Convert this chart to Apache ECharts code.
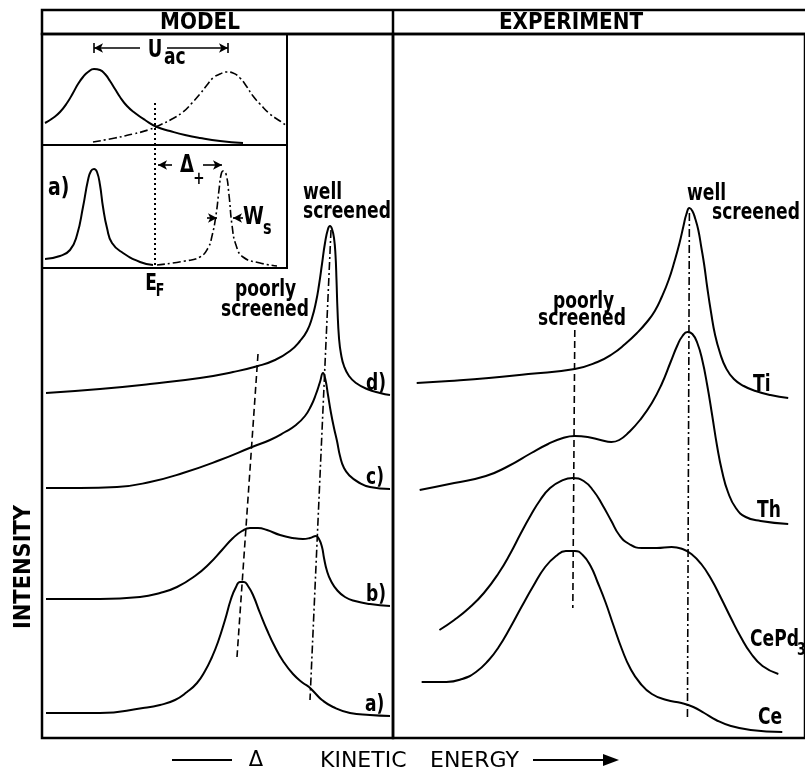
<!DOCTYPE html>
<html><head><meta charset="utf-8">
<script src="https://cdn.jsdelivr.net/npm/echarts@6/dist/echarts.min.js"></script>
<style>html,body{margin:0;padding:0;background:#fff}#c{width:805px;height:772px}</style>
</head><body><div id="c"></div>
<script>
// ---------- DATA (arbitrary energy / intensity units) ----------
// MODEL panel spectra (x: kinetic energy, y: intensity incl. vertical offset)
const modelD = [[0.4,34.5],[5.8,34.9],[10.8,35.4],[15.8,36.0],[19.1,36.6],[21.6,37.2],[23.3,37.8],[24.8,38.7],[25.8,39.7],[26.5,40.7],[27.0,42.0],[27.4,43.6],[27.7,45.3],[28.0,47.4],[28.3,49.5],[28.6,50.9],[28.8,51.2],[29.0,50.9],[29.2,50.0],[29.35,48.3],[29.45,45.8],[29.55,42.8],[29.7,40.0],[29.9,38.4],[30.2,37.2],[30.7,36.2],[31.4,35.5],[32.5,34.9],[33.8,34.5],[34.8,34.3]];
const modelC = [[0.4,25.0],[3.8,25.0],[7.5,25.1],[10.8,25.6],[14.1,26.5],[17.8,27.8],[21.0,29.1],[22.8,29.8],[24.3,30.6],[25.4,31.3],[26.3,32.2],[26.9,33.2],[27.4,34.4],[27.8,35.6],[28.1,36.5],[28.35,35.8],[28.6,34.3],[28.9,32.5],[29.2,31.0],[29.5,29.7],[29.8,28.2],[30.2,27.0],[30.8,26.2],[31.6,25.6],[32.8,25.1],[34.8,24.9]];
const modelB = [[0.4,13.9],[5.8,13.9],[9.8,14.1],[11.8,14.5],[13.5,15.1],[15.3,16.2],[16.8,17.5],[18.0,18.8],[19.1,20.0],[20.0,20.7],[20.8,21.0],[21.6,21.0],[22.5,20.8],[23.8,20.3],[25.1,20.0],[26.1,19.9],[26.8,20.0],[27.4,20.2],[27.7,19.9],[28.0,19.1],[28.2,18.0],[28.5,16.7],[28.9,15.7],[29.5,14.8],[30.3,14.1],[31.3,13.7],[32.8,13.4],[34.8,13.2]];
const modelA = [[0.4,2.5],[5.8,2.5],[10.1,3.0],[11.8,3.3],[13.3,3.8],[14.5,4.6],[15.5,5.5],[16.3,6.7],[17.0,8.1],[17.6,9.6],[18.3,11.8],[18.9,13.9],[19.4,15.1],[19.8,15.6],[20.2,15.6],[20.6,15.2],[21.1,14.3],[21.8,12.5],[22.5,10.8],[23.3,9.1],[24.1,7.7],[25.1,6.4],[26.1,5.5],[26.7,5.1],[27.3,4.5],[28.0,3.8],[29.1,3.1],[30.8,2.5],[32.8,2.3],[34.8,2.2]];
const modelPoorGuide = [[21.6,38.4],[19.5,8.1]];
const modelWellGuide = [[28.9,50.8],[26.8,3.8]];

// EXPERIMENT panel spectra
const expTi = [[2.4,35.5],[5.7,35.7],[9.7,36.0],[13.7,36.4],[18.4,36.9],[20.7,37.6],[22.2,38.4],[23.5,39.4],[24.7,40.5],[25.7,41.6],[26.5,42.7],[27.2,44.1],[27.9,45.8],[28.5,47.7],[29.0,49.5],[29.4,51.2],[29.7,52.4],[30.0,53.0],[30.3,52.7],[30.6,51.9],[30.9,50.8],[31.2,49.1],[31.5,47.3],[31.8,45.1],[32.2,42.5],[32.6,40.3],[33.1,38.5],[33.7,37.0],[34.5,35.9],[35.5,35.2],[36.7,34.7],[38.2,34.3],[40.0,34.0]];
const expTh = [[2.7,24.8],[6.2,25.5],[9.4,26.2],[11.7,27.2],[14.0,28.5],[15.7,29.4],[17.2,30.0],[18.4,30.2],[19.7,30.1],[21.0,29.8],[22.1,29.6],[22.9,29.8],[23.9,30.6],[25.0,31.8],[26.2,33.5],[27.2,35.4],[28.1,37.6],[28.8,39.3],[29.3,40.2],[29.8,40.6],[30.3,40.4],[30.8,39.5],[31.3,37.8],[31.8,35.3],[32.3,32.3],[32.8,29.2],[33.3,26.7],[33.9,24.6],[34.7,23.0],[35.7,22.1],[37.2,21.7],[40.0,21.4]];
const expCePd3 = [[4.7,10.8],[6.2,11.8],[7.7,13.0],[9.2,14.5],[10.7,16.5],[11.9,18.5],[12.9,20.4],[13.9,22.2],[14.9,23.8],[15.9,25.0],[17.0,25.7],[18.2,26.0],[19.3,25.7],[20.3,24.7],[21.2,23.3],[22.1,21.7],[22.9,20.3],[23.9,19.4],[25.2,19.0],[26.7,19.0],[28.2,19.1],[29.3,18.9],[30.2,18.4],[31.2,17.4],[32.2,15.9],[33.2,14.0],[34.2,12.0],[35.2,10.1],[36.2,8.5],[37.4,7.2],[39.0,6.4]];
const expCe = [[2.9,5.6],[5.4,5.6],[7.0,5.9],[8.4,6.6],[9.7,7.8],[10.7,9.1],[11.9,11.1],[13.0,13.1],[14.2,15.2],[15.4,17.1],[16.5,18.2],[17.5,18.7],[18.4,18.7],[19.2,18.3],[20.0,17.2],[20.7,15.6],[21.5,13.6],[22.3,11.3],[23.2,8.8],[24.0,7.0],[25.0,5.5],[26.2,4.4],[27.7,3.8],[29.2,3.5],[30.4,3.1],[31.5,2.5],[32.7,1.8],[34.2,1.2],[36.2,0.8],[39.4,0.6]];
const expPoorGuide = [[18.4,40.8],[18.2,13.0]];
const expWellGuide = [[30.0,52.5],[29.8,1.8]];

// MODEL inset (upper: broad levels, lower: case a) narrow levels)
const insetUpperSolid = [[0.3,14.5],[1.1,15.0],[1.8,15.6],[2.5,16.5],[3.1,17.5],[3.6,18.4],[4.1,19.1],[4.6,19.6],[5.2,19.9],[5.8,19.8],[6.3,19.4],[6.8,18.7],[7.3,17.9],[7.8,17.1],[8.5,16.2],[9.3,15.5],[10.3,14.8],[11.5,14.1],[12.8,13.7],[14.3,13.3],[15.8,13.0],[17.8,12.7],[20.1,12.5]];
const insetUpperDashDot = [[5.1,12.6],[7.3,13.0],[9.1,13.4],[10.6,13.8],[11.8,14.3],[13.0,14.9],[14.1,15.6],[15.0,16.5],[15.8,17.4],[16.5,18.3],[17.1,19.0],[17.8,19.4],[18.5,19.6],[19.1,19.5],[19.8,19.0],[20.5,18.1],[21.1,17.2],[21.8,16.4],[22.8,15.4],[23.8,14.7],[24.5,14.2]];
const insetLowerSolid = [[0.3,0.9],[1.8,1.2],[2.8,1.8],[3.5,3.3],[4.1,6.1],[4.6,8.8],[4.9,9.7],[5.2,9.9],[5.5,9.6],[5.8,8.3],[6.1,6.1],[6.5,4.0],[7.0,2.5],[8.1,1.5],[9.8,0.6],[11.1,0.3]];
const insetLowerDashDot = [[11.5,0.3],[14.3,0.7],[15.8,1.1],[16.6,2.0],[17.0,3.2],[17.4,5.3],[17.7,7.8],[17.9,9.3],[18.1,9.7],[18.4,9.4],[18.7,7.3],[19.0,4.3],[19.4,2.3],[20.1,1.1],[21.8,0.5],[23.5,0.2]];
const fermiLine = [[11.3,16.5],[11.3,0]];
const insetDivider = 12.3;
const uacMarks = [5.2, 18.6];       // centres of the two broad levels
const deltaPlusMarks = [11.3, 18.1]; // E_F to narrow level
const wsMarks = [17.6, 19.0];        // half width edges

// ---------- CHART ----------
const K = '#000';
const FONT = '"DejaVu Sans Condensed","DejaVu Sans",sans-serif';
const SANS = '"DejaVu Sans",sans-serif';
const chart = echarts.init(document.getElementById('c'), null, {renderer: 'canvas'});

function curve(data, g, type, smooth) {
  return {type: 'line', data, xAxisIndex: g, yAxisIndex: g, symbol: 'none', showSymbol: false,
    smooth: smooth === false ? false : 0.5,
    silent: true, animation: false, z: 3,
    lineStyle: {color: K, width: type === 'solid' ? 2 : 1.6, type: type, cap: 'butt'}};
}
const DASHDOT = [8, 3, 2, 3];
const DASH = [7, 4];

const arrowLine = (a, b, symA, symB) => [
  {coord: a, symbol: symA || 'none', symbolSize: [7, 9]},
  {coord: b, symbol: symB || 'none', symbolSize: [7, 9]}
];

const fermi = curve(fermiLine, 2, [2, 3], false);
fermi.lineStyle.width = 2;
fermi.markLine = {
  silent: true, animation: false, symbol: 'none', label: {show: false},
  lineStyle: {color: K, width: 1.6, type: 'solid'},
  data: [
    [{xAxis: 0, yAxis: insetDivider, symbol: 'none'}, {xAxis: 24.5, yAxis: insetDivider, symbol: 'none', lineStyle: {width: 2}}],
    arrowLine([uacMarks[0], 22.0], [9.8, 22.0], 'arrow'),
    arrowLine([12.5, 22.0], [uacMarks[1], 22.0], 'none', 'arrow'),
    arrowLine([uacMarks[0], 21.5], [uacMarks[0], 22.5]),
    arrowLine([uacMarks[1], 21.5], [uacMarks[1], 22.5]),
    arrowLine([13.0, 10.3], [deltaPlusMarks[0] + 0.3, 10.3], 'none', 'arrow'),
    arrowLine([16.1, 10.3], [deltaPlusMarks[1] - 0.1, 10.3], 'none', 'arrow'),
    arrowLine([16.5, 5.0], [wsMarks[0] - 0.1, 5.0], 'none', 'arrow'),
    arrowLine([20.1, 5.0], [wsMarks[1] + 0.1, 5.0], 'none', 'arrow')
  ]
};

function txt(text, x, y, size, opts) {
  opts = opts || {};
  return {type: 'text', x, y, rotation: opts.rot || 0, scaleY: opts.sy || 1.22, z: 10, silent: true,
    style: {text, font: (opts.weight || 'bold') + ' ' + size + 'px ' + (opts.family || FONT), fill: K,
      align: opts.align || 'left', verticalAlign: 'middle'}};
}

const option = {
  animation: false,
  backgroundColor: '#fff',
  grid: [
    {left: 42, top: 34, width: 351, height: 704, show: true, borderColor: K, borderWidth: 2.5, backgroundColor: 'transparent'},
    {left: 393, top: 34, width: 417, height: 704, show: true, borderColor: K, borderWidth: 2.5, backgroundColor: 'transparent'},
    {left: 42, top: 34, width: 245, height: 234, show: true, borderColor: K, borderWidth: 2, backgroundColor: 'transparent'}
  ],
  xAxis: [
    {type: 'value', gridIndex: 0, min: 0, max: 35.1, show: false},
    {type: 'value', gridIndex: 1, min: 0, max: 41.7, show: false},
    {type: 'value', gridIndex: 2, min: 0, max: 24.5, show: false}
  ],
  yAxis: [
    {type: 'value', gridIndex: 0, min: 0, max: 70.4, show: false},
    {type: 'value', gridIndex: 1, min: 0, max: 70.4, show: false},
    {type: 'value', gridIndex: 2, min: 0, max: 23.4, show: false}
  ],
  series: [
    curve(modelD, 0, 'solid'), curve(modelC, 0, 'solid'), curve(modelB, 0, 'solid'), curve(modelA, 0, 'solid'),
    curve(modelPoorGuide, 0, DASH, false), curve(modelWellGuide, 0, DASHDOT, false),
    curve(expTi, 1, 'solid'), curve(expTh, 1, 'solid'), curve(expCePd3, 1, 'solid'), curve(expCe, 1, 'solid'),
    curve(expPoorGuide, 1, DASH, false), curve(expWellGuide, 1, DASHDOT, false),
    curve(insetUpperSolid, 2, 'solid'), curve(insetUpperDashDot, 2, DASHDOT),
    curve(insetLowerSolid, 2, 'solid'), curve(insetLowerDashDot, 2, DASHDOT),
    fermi
  ],
  graphic: [
    {type: 'rect', shape: {x: 42, y: 10, width: 775, height: 24}, style: {fill: 'none', stroke: K, lineWidth: 2.5}, silent: true, z: 9},
    {type: 'line', shape: {x1: 393, y1: 10, x2: 393, y2: 34}, style: {stroke: K, lineWidth: 2.5}, silent: true, z: 9},
    txt('MODEL', 200, 23, 20, {align: 'center', family: SANS, sy: 1.12}),
    txt('EXPERIMENT', 571, 23, 20, {align: 'center', family: SANS, sy: 1.12}),
    // inset annotations
    txt('U', 155, 51, 20, {align: 'center'}),
    txt('ac', 164, 58, 19),
    txt('a)', 48, 188, 21),
    txt('\u0394', 187, 166, 20, {align: 'center'}),
    txt('+', 199, 179, 15, {align: 'center'}),
    txt('W', 243, 217, 21),
    txt('s', 263, 229, 16),
    txt('E', 151, 284, 19, {align: 'center'}),
    txt('F', 160, 292, 14, {align: 'center'}),
    // model labels
    txt('well', 303, 193, 19),
    txt('screened', 303, 212, 19),
    txt('poorly', 235, 290, 19),
    txt('screened', 221, 310, 19),
    txt('d)', 366, 384, 19),
    txt('c)', 366, 478, 19),
    txt('b)', 366, 595, 19),
    txt('a)', 365, 705, 19),
    // experiment labels
    txt('well', 687, 194, 19),
    txt('screened', 712, 213, 19),
    txt('poorly', 553, 302, 19),
    txt('screened', 538, 319, 19),
    txt('Ti', 753, 385, 19),
    txt('Th', 757, 511, 19),
    txt('CePd', 750, 640, 19),
    txt('3', 797, 651, 14),
    txt('Ce', 758, 718, 19),
    // axis titles
    txt('INTENSITY', 24, 567, 21, {align: 'center', rot: Math.PI / 2, family: SANS, sy: 1.1}),
    {type: 'line', shape: {x1: 172, y1: 760, x2: 232, y2: 760}, style: {stroke: K, lineWidth: 2}, silent: true},
    txt('\u0394', 256, 761, 21, {align: 'center', weight: 'normal', family: SANS, sy: 1}),
    txt('KINETIC', 320, 761, 22, {weight: 'normal', family: SANS, sy: 1}),
    txt('ENERGY', 430, 761, 22, {weight: 'normal', family: SANS, sy: 1}),
    {type: 'line', shape: {x1: 533, y1: 760, x2: 606, y2: 760}, style: {stroke: K, lineWidth: 2}, silent: true},
    {type: 'polygon', shape: {points: [[619, 760], [603, 754], [603, 766]]}, style: {fill: K}, silent: true}
  ]
};
chart.setOption(option);
</script></body></html>
